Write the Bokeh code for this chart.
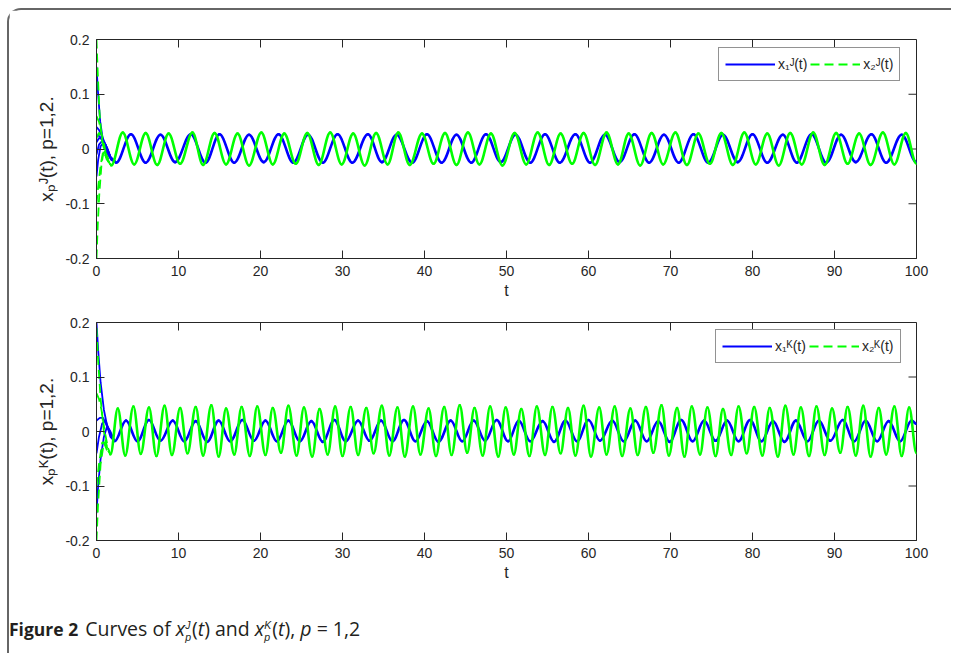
import numpy as np
from bokeh.plotting import figure
from bokeh.models import Range1d, FixedTicker, Legend, LegendItem, Div
from bokeh.layouts import column
from bokeh.embed import file_html
from bokeh.resources import INLINE

# ---------------- data ----------------
x_ticks = [0, 10, 20, 30, 40, 50, 60, 70, 80, 90, 100]
x_tick_labels = ["0", "10", "20", "30", "40", "50", "60", "70", "80", "90", "100"]
y_ticks = [-0.2, -0.1, 0.0, 0.1, 0.2]
y_tick_labels = ["-0.2", "-0.1", "0", "0.1", "0.2"]

# top panel, x1^J (blue): extrema of the steady oscillation
tb_peak_t = [4.2, 7.8, 11.5, 15.0, 18.6, 22.2, 25.8, 29.4, 33.1, 36.6, 40.3, 43.9, 47.5, 51.1,
             54.7, 58.4, 62.0, 65.6, 69.2, 72.8, 76.4, 80.0, 83.7, 87.2, 90.8, 94.5, 98.2]
tb_peak_x = [0.027, 0.026, 0.027, 0.027, 0.026, 0.027, 0.026, 0.027, 0.027, 0.026, 0.027, 0.026, 0.027, 0.026,
             0.027, 0.027, 0.026, 0.027, 0.026, 0.027, 0.026, 0.027, 0.026, 0.027, 0.026, 0.027, 0.026]
tb_trough_t = [2.4, 6.0, 9.6, 13.3, 16.8, 20.4, 24.0, 27.6, 31.2, 34.8, 38.5, 42.1, 45.7, 49.3,
               52.9, 56.5, 60.2, 63.8, 67.4, 71.0, 74.6, 78.2, 81.8, 85.4, 89.0, 92.6, 96.3, 100.0]
tb_trough_x = [-0.025, -0.025, -0.024, -0.025, -0.025, -0.024, -0.025, -0.025, -0.025, -0.024, -0.025, -0.025, -0.025, -0.024,
               -0.025, -0.025, -0.025, -0.024, -0.025, -0.025, -0.025, -0.024, -0.025, -0.025, -0.025, -0.024, -0.025, -0.024]

# top panel, x2^J (green)
tg_peak_t = [3.2, 6.0, 8.8, 11.7, 14.4, 17.2, 20.1, 22.9, 25.7, 28.5, 31.3, 34.1, 36.8, 39.7, 42.5, 45.3, 48.1, 51.0,
             53.8, 56.6, 59.4, 62.2, 64.9, 67.7, 70.6, 73.4, 76.2, 79.0, 81.8, 84.6, 87.4, 90.2, 93.0, 95.9, 98.7]
tg_peak_x = [0.030, 0.029, 0.028, 0.030, 0.029, 0.028, 0.030, 0.028, 0.029, 0.030, 0.028, 0.029, 0.030, 0.028, 0.029, 0.030, 0.028, 0.029,
             0.030, 0.028, 0.029, 0.030, 0.028, 0.029, 0.030, 0.028, 0.029, 0.030, 0.028, 0.029, 0.030, 0.029, 0.028, 0.030, 0.029]
tg_trough_t = [1.8, 4.6, 7.4, 10.2, 13.0, 15.8, 18.6, 21.5, 24.3, 27.1, 29.9, 32.7, 35.5, 38.2, 41.1, 43.9, 46.7, 49.5,
               52.4, 55.2, 58.0, 60.8, 63.6, 66.3, 69.1, 72.0, 74.8, 77.6, 80.4, 83.2, 86.0, 88.8, 91.6, 94.4, 97.3, 100.0]
tg_trough_x = [-0.030, -0.028, -0.029, -0.027, -0.029, -0.028, -0.030, -0.028, -0.027, -0.029, -0.028, -0.030, -0.028, -0.029, -0.027, -0.029, -0.028, -0.030,
               -0.028, -0.029, -0.027, -0.029, -0.028, -0.030, -0.028, -0.029, -0.027, -0.029, -0.028, -0.030, -0.028, -0.029, -0.027, -0.029, -0.028, -0.027]

# bottom panel, x1^K (blue)
bb_peak_t = [3.6, 6.4, 9.3, 12.1, 14.9, 17.8, 20.6, 23.4, 26.2, 29.0, 31.9, 34.7, 37.5, 40.3, 43.2, 46.0, 48.8, 51.5,
             54.4, 57.2, 60.0, 62.9, 65.7, 68.5, 71.3, 74.1, 76.9, 79.7, 82.5, 85.3, 88.1, 91.0, 93.8, 96.6, 99.4]
bb_peak_x = [0.020, 0.021, 0.020, 0.019, 0.020, 0.021, 0.020, 0.020, 0.019, 0.021, 0.020, 0.020, 0.021, 0.019, 0.020, 0.020, 0.021, 0.020,
             0.019, 0.020, 0.021, 0.020, 0.020, 0.019, 0.021, 0.020, 0.020, 0.021, 0.019, 0.020, 0.020, 0.021, 0.020, 0.019, 0.020]
bb_trough_t = [2.2, 5.0, 7.8, 10.7, 13.5, 16.3, 19.2, 22.0, 24.8, 27.6, 30.4, 33.3, 36.1, 38.9, 41.7, 44.6, 47.4, 50.2,
               52.9, 55.8, 58.6, 61.4, 64.3, 67.1, 69.9, 72.7, 75.5, 78.3, 81.1, 83.9, 86.7, 89.5, 92.4, 95.2, 98.0, 100.0]
bb_trough_x = [-0.018, -0.018, -0.017, -0.018, -0.019, -0.018, -0.017, -0.018, -0.018, -0.019, -0.018, -0.017, -0.018, -0.018, -0.019, -0.018, -0.017, -0.018,
               -0.018, -0.019, -0.018, -0.017, -0.018, -0.018, -0.019, -0.018, -0.017, -0.018, -0.018, -0.019, -0.018, -0.017, -0.018, -0.018, -0.018, 0.014]

# bottom panel, x2^K (green)
bg_peak_t = [2.6, 4.5, 6.4, 8.3, 10.2, 12.1, 14.0, 15.8, 17.7, 19.6, 21.5, 23.4, 25.3, 27.2, 29.1, 31.0, 32.9, 34.8,
             36.7, 38.6, 40.5, 42.4, 44.3, 46.1, 48.0, 49.9, 51.8, 53.7, 55.6, 57.5, 59.4, 61.3, 63.2, 65.1, 67.0, 68.9,
             70.8, 72.6, 74.5, 76.4, 78.3, 80.2, 82.1, 84.0, 85.9, 87.8, 89.7, 91.6, 93.5, 95.4, 97.3, 99.1]
bg_peak_x = [0.042, 0.046, 0.044, 0.047, 0.043, 0.045, 0.048, 0.042, 0.045, 0.046, 0.043, 0.047, 0.044, 0.041, 0.046, 0.045, 0.043, 0.047,
             0.044, 0.046, 0.042, 0.045, 0.048, 0.043, 0.046, 0.044, 0.041, 0.046, 0.045, 0.043, 0.047, 0.044, 0.046, 0.042, 0.045, 0.048,
             0.043, 0.046, 0.044, 0.041, 0.046, 0.045, 0.043, 0.047, 0.044, 0.046, 0.042, 0.045, 0.047, 0.043, 0.046, 0.044]
bg_trough_t = [1.7, 3.5, 5.4, 7.3, 9.2, 11.1, 13.0, 14.9, 16.8, 18.7, 20.6, 22.5, 24.4, 26.3, 28.2, 30.0, 31.9, 33.8,
               35.7, 37.6, 39.5, 41.4, 43.3, 45.2, 47.1, 49.0, 50.9, 52.8, 54.7, 56.6, 58.4, 60.3, 62.2, 64.1, 66.0, 67.9,
               69.8, 71.7, 73.6, 75.5, 77.4, 79.3, 81.2, 83.1, 85.0, 86.9, 88.8, 90.7, 92.6, 94.4, 96.3, 98.2, 100.0]
bg_trough_x = [-0.042, -0.044, -0.041, -0.045, -0.043, -0.040, -0.044, -0.046, -0.042, -0.045, -0.043, -0.039, -0.044, -0.046, -0.042, -0.045, -0.043, -0.040,
               -0.044, -0.046, -0.042, -0.045, -0.043, -0.039, -0.044, -0.046, -0.042, -0.045, -0.043, -0.040, -0.044, -0.046, -0.042, -0.045, -0.043, -0.039,
               -0.044, -0.046, -0.042, -0.045, -0.043, -0.040, -0.044, -0.046, -0.042, -0.045, -0.043, -0.039, -0.044, -0.046, -0.042, -0.045, -0.040]

# initial transients (different initial conditions)
tb_trans_t = [[0, 0.2, 0.45, 0.8, 1.3, 1.8, 2.4],
              [0, 0.3, 0.7, 1.1, 1.7, 2.4],
              [0, 0.3, 0.7, 1.1, 1.7, 2.4],
              [0, 0.2, 0.5, 0.9, 1.3, 1.8, 2.4],
              [0, 0.3, 0.7, 1.1, 1.7, 2.4],
              [0, 0.3, 0.7, 1.1, 1.7, 2.4]]
tb_trans_x = [[0.150, 0.10, 0.05, 0.015, -0.008, -0.020, -0.025],
              [0.040, 0.035, 0.022, 0.008, -0.015, -0.025],
              [0.025, 0.024, 0.018, 0.006, -0.015, -0.025],
              [-0.050, -0.020, 0.005, 0.012, 0.002, -0.018, -0.025],
              [-0.010, 0.008, 0.015, 0.008, -0.015, -0.025],
              [0.012, 0.020, 0.018, 0.008, -0.015, -0.025]]
tg_trans_t = [[0, 0.15, 0.35, 0.6, 0.9, 1.3, 1.8],
              [0, 0.3, 0.6, 0.9, 1.3, 1.8],
              [0, 0.15, 0.35, 0.6, 0.9, 1.2, 1.8],
              [0, 0.2, 0.5, 0.8, 1.2, 1.8],
              [0, 0.3, 0.6, 1.0, 1.4, 1.8]]
tg_trans_x = [[0.200, 0.14, 0.07, 0.025, 0.0, -0.022, -0.030],
              [0.060, 0.05, 0.03, 0.01, -0.02, -0.030],
              [-0.200, -0.14, -0.08, -0.03, 0.0, -0.01, -0.030],
              [-0.100, -0.07, -0.03, -0.005, -0.015, -0.030],
              [0.020, 0.03, 0.02, -0.005, -0.022, -0.030]]
bb_trans_t = [[0, 0.2, 0.5, 0.9, 1.3, 1.7, 2.2],
              [0, 0.2, 0.5, 0.9, 1.3, 1.7, 2.2],
              [0, 0.4, 0.8, 1.2, 1.7, 2.2],
              [0, 0.3, 0.7, 1.1, 1.6, 2.2]]
bb_trans_x = [[0.200, 0.15, 0.09, 0.04, 0.01, -0.01, -0.018],
              [-0.150, -0.10, -0.05, -0.01, 0.01, 0.0, -0.018],
              [0.020, 0.025, 0.025, 0.012, -0.005, -0.018],
              [-0.040, -0.010, 0.015, 0.020, 0.0, -0.018]]
bg_trans_t = [[0, 0.2, 0.5, 0.9, 1.3, 1.7],
              [0, 0.3, 0.6, 1.0, 1.4, 1.7],
              [0, 0.2, 0.5, 0.9, 1.3, 1.7],
              [0, 0.3, 0.7, 1.1, 1.4, 1.7]]
bg_trans_x = [[0.190, 0.13, 0.06, 0.0, -0.03, -0.042],
              [0.070, 0.06, 0.04, 0.0, -0.03, -0.042],
              [-0.200, -0.13, -0.06, -0.02, -0.035, -0.042],
              [-0.100, -0.06, -0.02, -0.02, -0.035, -0.042]]

# ---------------- styling ----------------
BLUE = "#0000FF"
GREEN = "#00FF00"
AX = "#262626"
FONT = "Liberation Sans"
K = 0.36          # bezier handle fraction (cosine-like shape between extrema)
FW = 820          # frame width in px
TICK_PX = 8       # inward tick length in px
XMIN, XMAX, YMIN, YMAX = 0, 100, -0.2, 0.2


def merge(pt, px, tt, tx):
    pairs = sorted(list(zip(pt, px)) + list(zip(tt, tx)))
    t = np.array([a for a, _ in pairs])
    x = np.array([b for _, b in pairs])
    return t, x


def wave(p, t, x, color, width):
    dt = np.diff(t)
    p.bezier(x0=t[:-1], y0=x[:-1], x1=t[1:], y1=x[1:],
             cx0=t[:-1] + K * dt, cy0=x[:-1], cx1=t[1:] - K * dt, cy1=x[1:],
             line_color=color, line_width=width, line_cap="round")


def panel(min_top, fh, min_bottom, ylabel):
    p = figure(frame_width=FW, frame_height=fh,
               min_border_left=87, min_border_right=23,
               min_border_top=min_top, min_border_bottom=min_bottom,
               x_range=Range1d(XMIN, XMAX), y_range=Range1d(YMIN, YMAX),
               output_backend="svg", toolbar_location=None)
    p.grid.visible = False
    p.outline_line_color = AX
    p.outline_line_width = 1
    for ax, ticks, labels in ((p.xaxis[0], x_ticks, x_tick_labels), (p.yaxis[0], y_ticks, y_tick_labels)):
        ax.ticker = FixedTicker(ticks=ticks)
        ax.major_label_overrides = {tk: lb for tk, lb in zip(ticks, labels)}
        ax.major_tick_in = TICK_PX
        ax.major_tick_out = 0
        ax.minor_tick_in = 0
        ax.minor_tick_out = 0
        ax.major_label_standoff = 7
        ax.axis_line_color = AX
        ax.major_tick_line_color = AX
        ax.major_label_text_font = FONT
        ax.major_label_text_font_size = "14px"
        ax.major_label_text_color = AX
        ax.axis_label_text_font = FONT
        ax.axis_label_text_font_style = "normal"
        ax.axis_label_text_color = AX
    p.xaxis[0].axis_label = "t"
    p.xaxis[0].axis_label_text_font_size = "16px"
    p.xaxis[0].axis_label_standoff = 3
    p.yaxis[0].axis_label = ylabel
    p.yaxis[0].axis_label_text_font_size = "19px"
    p.yaxis[0].axis_label_standoff = 5
    # inward ticks on the top and right edges of the box (from the tick lists)
    ty = TICK_PX * (YMAX - YMIN) / fh
    tx = TICK_PX * (XMAX - XMIN) / FW
    p.segment(x0=x_ticks, y0=[YMAX] * len(x_ticks), x1=x_ticks, y1=[YMAX - ty] * len(x_ticks),
              line_color=AX, line_width=1)
    p.segment(x0=[XMAX] * len(y_ticks), y0=y_ticks, x1=[XMAX - tx] * len(y_ticks), y1=y_ticks,
              line_color=AX, line_width=1)
    return p


def fill(p, bt, bx, btr_t, btr_x, gt, gx, gtr_t, gtr_x, leg1, leg2, loc):
    r_b = p.multi_line(btr_t, btr_x, line_color=BLUE, line_width=1.8)
    wave(p, bt, bx, BLUE, 2.6)
    r_g = p.multi_line(gtr_t, gtr_x, line_color=GREEN, line_width=1.8, line_dash="9 5")
    wave(p, gt, gx, GREEN, 2.6)
    leg = Legend(items=[LegendItem(label=leg1, renderers=[r_b]),
                        LegendItem(label=leg2, renderers=[r_g])],
                 orientation="horizontal", location=loc,
                 glyph_width=50, glyph_height=20, label_height=20,
                 label_standoff=3, spacing=3, padding=6, margin=0,
                 label_text_font=FONT, label_text_font_size="14px", label_text_color=AX,
                 border_line_color=AX, border_line_width=1, background_fill_alpha=1.0)
    p.add_layout(leg)


p1 = panel(29, 219, 44, "xₚᴶ(t), p=1,2.")
t1b, x1b = merge(tb_peak_t, tb_peak_x, tb_trough_t, tb_trough_x)
t1g, x1g = merge(tg_peak_t, tg_peak_x, tg_trough_t, tg_trough_x)
fill(p1, t1b, x1b, tb_trans_t, tb_trans_x, t1g, x1g, tg_trans_t, tg_trans_x,
     "x₁ᴶ(t)", "x₂ᴶ(t)", (622, 177))

p2 = panel(20, 218, 48, "xₚᴷ(t), p=1,2.")
t2b, x2b = merge(bb_peak_t, bb_peak_x, bb_trough_t, bb_trough_x)
t2g, x2g = merge(bg_peak_t, bg_peak_x, bg_trough_t, bg_trough_x)
fill(p2, t2b, x2b, bb_trans_t, bb_trans_x, t2g, x2g, bg_trans_t, bg_trans_x,
     "x₁ᴷ(t)", "x₂ᴷ(t)", (619, 177))


def supsub(sup, sub):
    return ('<span style="display:inline-block;vertical-align:-4.5px;font-family:\'Liberation Sans\',sans-serif;'
            'font-size:10.5px;line-height:11.8px;text-align:left;margin-right:1px;"><i>' + sup
            + '</i><br><i>' + sub + '</i></span>')


caption_html = ('<div style="font-family:\'Open Sans\',sans-serif;font-size:19.5px;color:#231f20;'
                'white-space:nowrap;padding-top:22px;margin-left:-5px;">'
                '<b style="font-size:17.5px;">Figure 2</b><span style="margin-left:7px;">Curves of </span>'
                '<i>x</i>' + supsub('J', 'p') + '(<i>t</i>) and <i>x</i>'
                + supsub('K', 'p') + '(<i>t</i>), <i>p</i> = 1,2</div>')
cap = Div(text=caption_html, width=930, height=56)

layout = column(p1, p2, cap, width=944,
                styles={"border-left": "2px solid #666", "border-top": "2px solid #666",
                        "border-top-left-radius": "14px", "margin-left": "7px", "margin-top": "8px"})

open("out.html", "w").write(file_html(layout, INLINE))
